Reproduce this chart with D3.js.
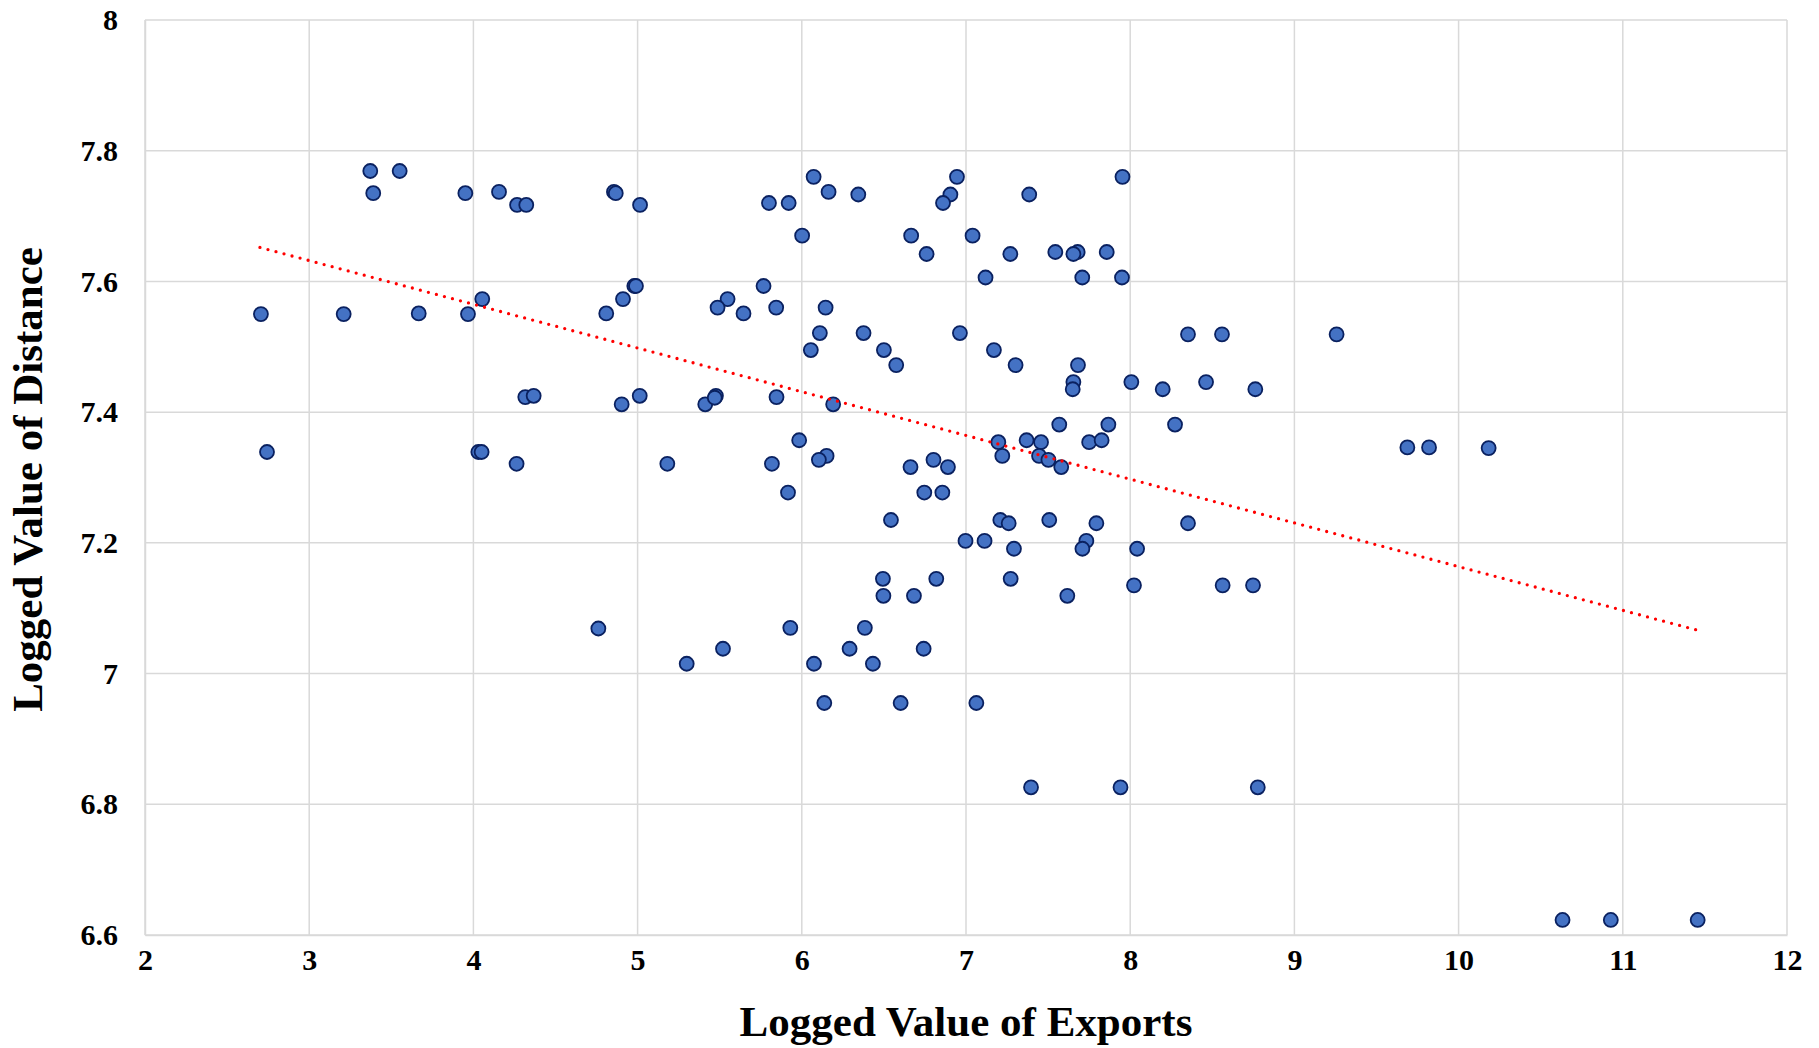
<!DOCTYPE html>
<html><head><meta charset="utf-8">
<script src="https://cdn.jsdelivr.net/npm/d3@7"></script>
<style>
html,body{margin:0;padding:0;background:#fff;}
svg{display:block;}
</style></head>
<body>
<svg id="chart" width="1819" height="1048"></svg>
<script>
const exportsX = [3.372,3.551,3.390,3.951,4.156,4.266,4.322,4.856,4.867,5.015,
2.706,3.210,3.667,3.967,4.054,4.809,4.911,4.980,4.990,4.316,
4.367,4.903,5.013,2.743,4.030,4.050,4.263,5.800,5.920,6.072,
6.163,6.344,6.002,6.945,6.905,6.860,7.385,6.666,7.040,6.760,
7.270,7.544,7.119,5.767,5.548,5.487,5.645,5.844,6.145,6.110,
6.055,6.376,6.500,6.575,6.963,7.170,7.302,5.412,5.477,5.470,
5.846,6.191,7.568,5.984,6.151,6.104,5.181,5.818,6.662,6.802,
6.890,7.197,7.221,7.369,7.457,7.445,7.502,7.580,7.953,7.680,
7.654,7.857,7.708,7.950,8.352,8.559,9.257,7.682,7.654,7.650,
8.007,8.198,8.462,8.762,7.867,8.273,7.750,7.826,9.688,9.820,
10.183,5.916,6.746,6.856,6.543,7.209,7.260,7.507,6.997,7.113,
7.292,6.494,6.819,7.272,6.497,6.683,5.930,6.384,5.520,6.291,
6.742,5.299,6.074,6.433,6.137,6.602,7.063,4.761,7.794,8.352,
7.733,7.709,8.042,7.617,8.023,8.563,8.748,7.396,7.941,8.777,
10.633,10.927,11.456];
const distanceY = [7.769,7.769,7.735,7.735,7.737,7.717,7.717,7.737,7.735,7.717,
7.550,7.550,7.551,7.550,7.573,7.551,7.573,7.593,7.593,7.423,
7.425,7.412,7.425,7.339,7.339,7.339,7.321,7.720,7.720,7.760,
7.737,7.733,7.670,7.760,7.733,7.720,7.733,7.670,7.670,7.642,
7.642,7.645,7.606,7.593,7.573,7.560,7.551,7.560,7.560,7.521,
7.495,7.521,7.495,7.472,7.521,7.495,7.472,7.412,7.425,7.422,
7.423,7.412,7.381,7.357,7.333,7.327,7.321,7.321,7.316,7.327,
7.316,7.354,7.333,7.357,7.354,7.333,7.327,7.316,7.760,7.645,
7.642,7.645,7.606,7.606,7.519,7.519,7.519,7.472,7.446,7.435,
7.446,7.435,7.446,7.435,7.381,7.381,7.354,7.357,7.346,7.346,
7.345,7.277,7.277,7.277,7.235,7.235,7.230,7.235,7.203,7.203,
7.191,7.145,7.145,7.145,7.119,7.119,7.070,7.070,7.038,7.038,
7.038,7.015,7.015,7.015,6.955,6.955,6.955,7.069,7.230,7.230,
7.203,7.191,7.191,7.119,7.135,7.135,7.135,6.826,6.826,6.826,
6.623,6.623,6.623];
const trendX = [2.70, 11.46];
const trendY = [7.652, 7.066];
const xTicks = [2,3,4,5,6,7,8,9,10,11,12];
const yTicks = [6.6,6.8,7,7.2,7.4,7.6,7.8,8];
const xTitle = "Logged Value of Exports";
const yTitle = "Logged Value of Distance";

const svg = d3.select("#chart");
const L = 145, R = 1787, T = 20, B = 935;
const x = d3.scaleLinear().domain([2,12]).range([L,R]);
const y = d3.scaleLinear().domain([6.6,8]).range([B,T]);
const font = "'Liberation Serif','Times New Roman',serif";

// grid
svg.append("g").selectAll("line").data(xTicks).join("line")
  .attr("x1",d=>x(d)).attr("x2",d=>x(d)).attr("y1",T).attr("y2",B)
  .attr("stroke","#d9d9d9").attr("stroke-width",1.5);
svg.append("g").selectAll("line").data(yTicks).join("line")
  .attr("x1",L).attr("x2",R).attr("y1",d=>y(d)).attr("y2",d=>y(d))
  .attr("stroke","#d9d9d9").attr("stroke-width",1.5);

// axes (labels)
const xAxis = d3.axisBottom(x).tickValues(xTicks).tickSize(0).tickPadding(14).tickFormat(d3.format("d"));
const gx = svg.append("g").attr("transform",`translate(0,${B})`).call(xAxis);
gx.select(".domain").attr("stroke","#d9d9d9").attr("stroke-width",1.5);
gx.selectAll("text").attr("font-family",font).attr("font-size",30).attr("font-weight","bold").attr("fill","#000");

const yAxis = d3.axisLeft(y).tickValues(yTicks).tickSize(0).tickPadding(27).tickFormat(d=>String(+d.toFixed(1)));
const gy = svg.append("g").attr("transform",`translate(${L},0)`).call(yAxis);
gy.select(".domain").attr("stroke","#d9d9d9").attr("stroke-width",1.5);
gy.selectAll("text").attr("font-family",font).attr("font-size",30).attr("font-weight","bold").attr("fill","#000");

// points
const pts = exportsX.map((v,i)=>({x:v,y:distanceY[i]}));
svg.append("g").selectAll("circle").data(pts).join("circle")
  .attr("cx",d=>x(d.x)).attr("cy",d=>y(d.y)).attr("r",7)
  .attr("fill","#4472C4").attr("stroke","#0A2160").attr("stroke-width",1.8);

// trend line
svg.append("line")
  .attr("x1",x(trendX[0])).attr("y1",y(trendY[0]))
  .attr("x2",x(trendX[1])).attr("y2",y(trendY[1]))
  .attr("stroke","#FF0000").attr("stroke-width",3.3)
  .attr("stroke-linecap","round").attr("stroke-dasharray","0 8.3");

// titles
svg.append("text").attr("x",(L+R)/2).attr("y",1036).attr("text-anchor","middle")
  .attr("font-family",font).attr("font-size",43).attr("font-weight","bold").text(xTitle);
svg.append("text").attr("transform",`translate(42,${(T+B)/2 + 2}) rotate(-90)`).attr("text-anchor","middle")
  .attr("font-family",font).attr("font-size",43).attr("font-weight","bold").text(yTitle);
</script>
</body></html>
